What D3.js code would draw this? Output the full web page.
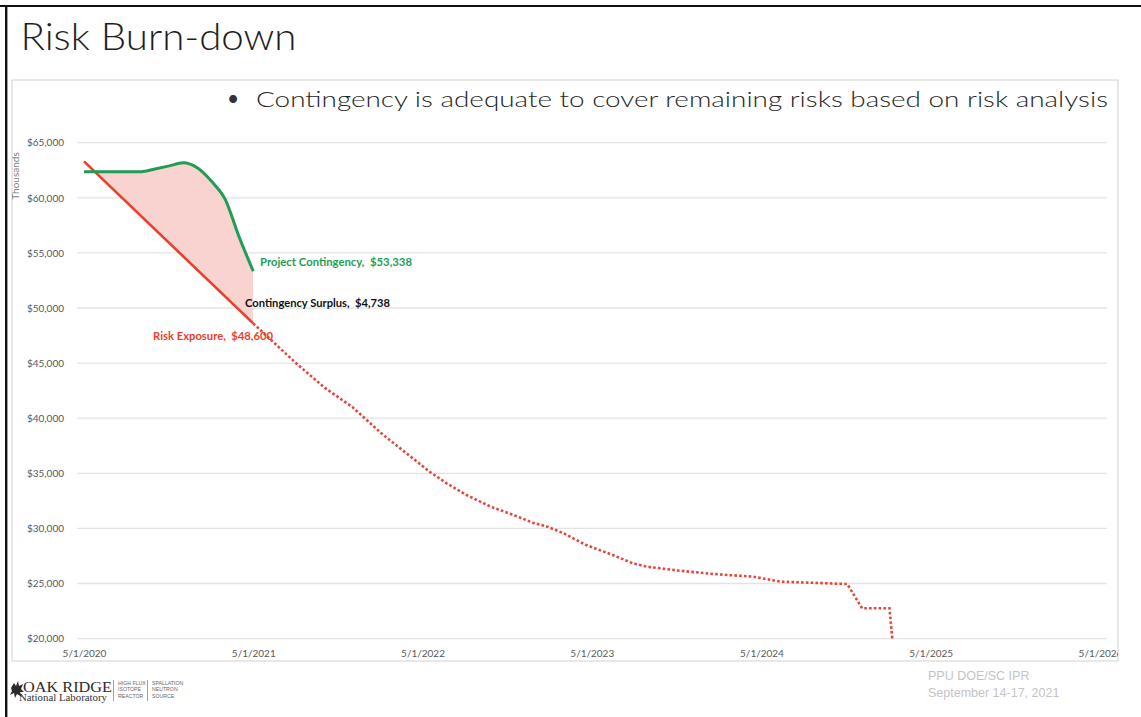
<!DOCTYPE html>
<html>
<head>
<meta charset="utf-8">
<script src="https://cdn.jsdelivr.net/npm/d3@7/dist/d3.min.js"></script>
<style>
  html, body { margin: 0; padding: 0; background: #fff; }
  svg { display: block; }
</style>
</head>
<body>
<svg id="slide" width="1141" height="717"></svg>
<script>
// ---- Data -------------------------------------------------------------
// Project contingency (actuals), thousands of dollars
const contingencyDates = ["2020-05-01","2020-06-01","2020-07-01","2020-08-01","2020-09-01",
  "2020-10-01","2020-11-01","2020-12-01","2021-01-01","2021-02-01","2021-03-01","2021-04-01","2021-05-01"];
const contingencyValues = [62370, 62370, 62370, 62370, 62370,
  62620, 62900, 63180, 62700, 61450, 59900, 56400, 53338];

// Risk exposure to date (solid)
const riskDates = ["2020-05-01", "2021-05-01"];
const riskValues = [63300, 48600];

// Forecast risk exposure (dotted)
const forecastDates = ["2021-05-01","2021-08-01","2021-10-01","2021-12-01","2022-02-01","2022-04-01",
  "2022-05-16","2022-06-22","2022-08-04","2022-09-25","2022-11-13","2022-12-25","2023-01-25",
  "2023-03-01","2023-04-19","2023-06-15","2023-07-28","2023-08-27","2023-11-07","2024-01-18",
  "2024-04-13","2024-06-10","2024-07-22","2024-11-02","2024-12-04","2025-02-01","2025-02-07"];
const forecastValues = [48600, 45000, 42800, 41000, 38640, 36660,
  35150, 34090, 33030, 31970, 31220, 30520, 30160,
  29560, 28490, 27590, 26840, 26530, 26160, 25860,
  25620, 25170, 25110, 24950, 22750, 22750, 20000];

// Axis ticks
const yTicks = [20000, 25000, 30000, 35000, 40000, 45000, 50000, 55000, 60000, 65000];
const xTickLabels = ["5/1/2020","5/1/2021","5/1/2022","5/1/2023","5/1/2024","5/1/2025","5/1/2026"];

// ---- Setup ------------------------------------------------------------
const parse = d3.timeParse("%Y-%m-%d");
const parseTick = d3.timeParse("%m/%d/%Y");

const contingency = contingencyDates.map((d, i) => ({ date: parse(d), value: contingencyValues[i] }));
const risk = riskDates.map((d, i) => ({ date: parse(d), value: riskValues[i] }));
const forecast = forecastDates.map((d, i) => ({ date: parse(d), value: forecastValues[i] }));

const svg = d3.select("#slide");
const FONT = "Lato, 'Open Sans', sans-serif";

// Slide frame
svg.append("line").attr("x1", 0).attr("x2", 1141).attr("y1", 6).attr("y2", 6)
  .attr("stroke", "#111").attr("stroke-width", 2);
svg.append("line").attr("x1", 6.2).attr("x2", 6.2).attr("y1", 5).attr("y2", 717)
  .attr("stroke", "#111").attr("stroke-width", 2.4);

// Title
svg.append("text").attr("x", 20.5).attr("y", 50)
  .attr("font-family", FONT).attr("font-weight", 300).attr("font-size", 37).attr("fill", "#1e1e1e")
  .attr("textLength", 276).attr("lengthAdjust", "spacingAndGlyphs")
  .text("Risk Burn-down");

// Chart box
const box = { x: 12, y: 80, w: 1106, h: 581 };
svg.append("rect").attr("x", box.x).attr("y", box.y).attr("width", box.w).attr("height", box.h)
  .attr("fill", "#fff").attr("stroke", "#d9d9d9").attr("stroke-width", 1.2);

const defs = svg.append("defs");
defs.append("clipPath").attr("id", "boxClip")
  .append("rect").attr("x", box.x).attr("y", box.y).attr("width", box.w).attr("height", box.h);

// Bullet statement
svg.append("text").attr("x", 227).attr("y", 106)
  .attr("font-family", FONT).attr("font-size", 21).attr("fill", "#333")
  .text("•");
svg.append("text").attr("x", 256).attr("y", 106.5)
  .attr("font-family", FONT).attr("font-weight", 300).attr("font-size", 21).attr("fill", "#262626")
  .attr("textLength", 852).attr("lengthAdjust", "spacingAndGlyphs")
  .text("Contingency is adequate to cover remaining risks based on risk analysis");

// Scales
const x = d3.scaleTime()
  .domain([parseTick(xTickLabels[0]), parseTick(xTickLabels[xTickLabels.length - 1])])
  .range([84, 1100]);
const y = d3.scaleLinear().domain([20000, 65000]).range([638.6, 142.7]);

const chart = svg.append("g").attr("clip-path", "url(#boxClip)");

// Gridlines
chart.append("g").selectAll("line").data(yTicks).join("line")
  .attr("x1", 77).attr("x2", 1107)
  .attr("y1", d => y(d)).attr("y2", d => y(d))
  .attr("stroke", "#e3e3e3").attr("stroke-width", 1.3);

// Y axis labels
const yAxis = d3.axisLeft(y).tickValues(yTicks).tickFormat(d3.format("$,")).tickSize(0).tickPadding(0);
const yg = chart.append("g").attr("transform", "translate(64,0)").call(yAxis);
yg.select(".domain").remove();
yg.selectAll("text").attr("font-family", FONT).attr("font-size", 10).attr("fill", "#595959");

// Units label
chart.append("text")
  .attr("transform", "translate(18.5,176) rotate(-90)")
  .attr("text-anchor", "middle")
  .attr("font-family", FONT).attr("font-size", 10).attr("fill", "#7f7f7f")
  .text("Thousands");

// X axis labels
const xAxis = d3.axisBottom(x).tickValues(xTickLabels.map(parseTick))
  .tickFormat(d3.timeFormat("%-m/%-d/%Y")).tickSize(0).tickPadding(0);
const xg = chart.append("g").attr("transform", "translate(0,650)").call(xAxis);
xg.select(".domain").remove();
xg.selectAll("text").attr("font-family", FONT).attr("font-size", 10).attr("fill", "#595959");

// Surplus band: below contingency, above risk exposure
const riskStart = risk[0], riskEnd = risk[risk.length - 1];
const above = [
  [x(riskStart.date), y(riskStart.value)],
  [x(riskEnd.date), y(riskEnd.value)],
  [x(riskEnd.date), y(65000) - 40],
  [x(riskStart.date), y(65000) - 40]
];
defs.append("clipPath").attr("id", "aboveRisk")
  .append("path").attr("d", "M" + above.join("L") + "Z");

const contCurve = d3.curveMonotoneX;
chart.append("g").attr("clip-path", "url(#aboveRisk)")
  .append("path").datum(contingency)
  .attr("d", d3.area().x(d => x(d.date)).y0(y(20000)).y1(d => y(d.value)).curve(contCurve))
  .attr("fill", "#f9d3cf");

// Forecast (dotted)
chart.append("path").datum(forecast)
  .attr("d", d3.line().x(d => x(d.date)).y(d => y(d.value)))
  .attr("fill", "none").attr("stroke", "#e8453a").attr("stroke-width", 2.6)
  .attr("stroke-dasharray", "2.6,2.2");

// Risk exposure (solid)
chart.append("path").datum(risk)
  .attr("d", d3.line().x(d => x(d.date)).y(d => y(d.value)))
  .attr("fill", "none").attr("stroke", "#ea3f2c").attr("stroke-width", 2.6);

// Project contingency
chart.append("path").datum(contingency)
  .attr("d", d3.line().x(d => x(d.date)).y(d => y(d.value)).curve(contCurve))
  .attr("fill", "none").attr("stroke", "#1f9d55").attr("stroke-width", 3);

// End-point annotations
const contEnd = contingency[contingency.length - 1];
const surplus = contEnd.value - riskEnd.value;
const fmt = d3.format(",");
function label(txt, xx, yy, color, len) {
  chart.append("text").attr("x", xx).attr("y", yy)
    .style("white-space", "pre")
    .attr("font-family", FONT).attr("font-weight", 700).attr("font-size", 10.5)
    .attr("fill", color).attr("textLength", len).attr("lengthAdjust", "spacingAndGlyphs")
    .text(txt);
}
label("Project Contingency,  $" + fmt(contEnd.value), 260, 265.5, "#1f9d55", 152);
label("Contingency Surplus,  $" + fmt(surplus), 245, 307, "#111", 145);
label("Risk Exposure,  $" + fmt(riskEnd.value), 153, 340, "#ea3f2c", 120);

// Footer: laboratory logo
const logo = svg.append("g");
logo.append("path")
  .attr("d", "M11,688 L14,683 L16,686 L18,681 L19,686 L23,684 L21,689 L24,692 L20,692 L22,697 L17,694 L15,698 L14,693 L10,695 L12,691 Z")
  .attr("fill", "#2b2b2b");
logo.append("text").attr("x", 23).attr("y", 692)
  .attr("font-family", "'Liberation Serif', serif").attr("font-size", 14.5).attr("fill", "#2b2b2b")
  .attr("textLength", 89).attr("lengthAdjust", "spacingAndGlyphs").text("OAK RIDGE");
logo.append("text").attr("x", 19).attr("y", 701)
  .attr("font-family", "'Liberation Serif', serif").attr("font-size", 9.5).attr("fill", "#333")
  .attr("textLength", 88).attr("lengthAdjust", "spacingAndGlyphs").text("National Laboratory");
[113.5, 147.5].forEach(sx => logo.append("line")
  .attr("x1", sx).attr("x2", sx).attr("y1", 680).attr("y2", 701)
  .attr("stroke", "#888").attr("stroke-width", 0.8));
const small = [["HIGH FLUX", "ISOTOPE", "REACTOR"], ["SPALLATION", "NEUTRON", "SOURCE"]];
small.forEach((lines, c) => lines.forEach((t, r) => logo.append("text")
  .attr("x", c === 0 ? 118 : 152).attr("y", 685 + r * 6.3)
  .attr("font-family", "'Liberation Sans', sans-serif").attr("font-size", 5.2).attr("fill", "#666")
  .text(t)));

// Footer: meeting
svg.append("text").attr("x", 928).attr("y", 679.5)
  .attr("font-family", "'Liberation Sans', Arial, sans-serif").attr("font-size", 12.5).attr("fill", "#c4c4c4")
  .text("PPU DOE/SC IPR");
svg.append("text").attr("x", 928).attr("y", 696.5)
  .attr("font-family", "'Liberation Sans', Arial, sans-serif").attr("font-size", 12.5).attr("fill", "#c4c4c4")
  .text("September 14-17, 2021");
</script>
</body>
</html>
